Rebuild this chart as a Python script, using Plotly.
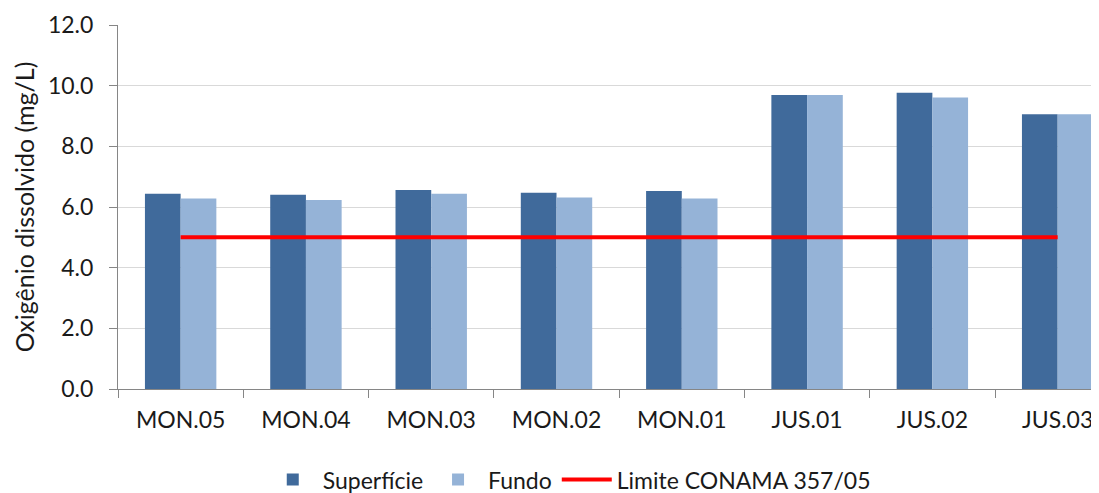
import plotly.graph_objects as go

categories = ["MON.05", "MON.04", "MON.03", "MON.02", "MON.01", "JUS.01", "JUS.02", "JUS.03"]
superficie = [6.44, 6.40, 6.56, 6.47, 6.53, 9.69, 9.77, 9.06]
fundo = [6.28, 6.23, 6.44, 6.31, 6.28, 9.69, 9.61, 9.06]
limite = [5.0] * len(categories)
y_ticks = [0, 2, 4, 6, 8, 10, 12]

FONT = "Lato, Carlito, Calibri, sans-serif"
TXT = "#1a1a1a"

fig = go.Figure()
fig.add_trace(go.Bar(name="Superfície", x=categories, y=superficie,
                     marker=dict(color="#406A9B", line=dict(width=0))))
fig.add_trace(go.Bar(name="Fundo", x=categories, y=fundo,
                     marker=dict(color="#95B3D7", line=dict(width=0))))
fig.add_trace(go.Scatter(name="Limite CONAMA 357/05", x=categories, y=limite,
                         mode="lines", line=dict(color="#FF0000", width=4)))

# page has an 8px body margin: figure is drawn 8px in from the top-left corner
fig.update_layout(
    width=1091, height=485,
    margin=dict(l=110, r=0, t=17, b=104, autoexpand=False),
    paper_bgcolor="white", plot_bgcolor="white",
    barmode="group", bargap=0.43, bargroupgap=0,
    font=dict(family=FONT, size=23, color=TXT),
    showlegend=True,
    legend=dict(orientation="h", x=0.46, xanchor="center", y=-0.19, yanchor="top",
                font=dict(size=23, family=FONT, color=TXT), itemwidth=50,
                traceorder="normal"),
)
fig.update_xaxes(
    range=[-0.5, 7.33], showgrid=False, showline=True, linecolor="#868686", linewidth=1,
    ticks="outside", tickson="boundaries", ticklen=8, tickcolor="#868686",
    tickfont=dict(size=23, family=FONT, color=TXT), ticklabelstandoff=10,
    automargin=False,
)
fig.update_yaxes(
    range=[0, 12], tickvals=y_ticks, tickformat=".1f",
    showgrid=True, gridcolor="#D9D9D9", gridwidth=1,
    showline=True, linecolor="#868686", linewidth=1,
    ticks="outside", ticklen=8, tickcolor="#868686",
    tickfont=dict(size=23, family=FONT, color=TXT), ticklabelstandoff=11,
    title=dict(text="Oxigênio dissolvido (mg/L)", font=dict(size=25, family=FONT, color=TXT), standoff=6),
    zeroline=False, automargin=False,
)

fig.write_html("out.html")
